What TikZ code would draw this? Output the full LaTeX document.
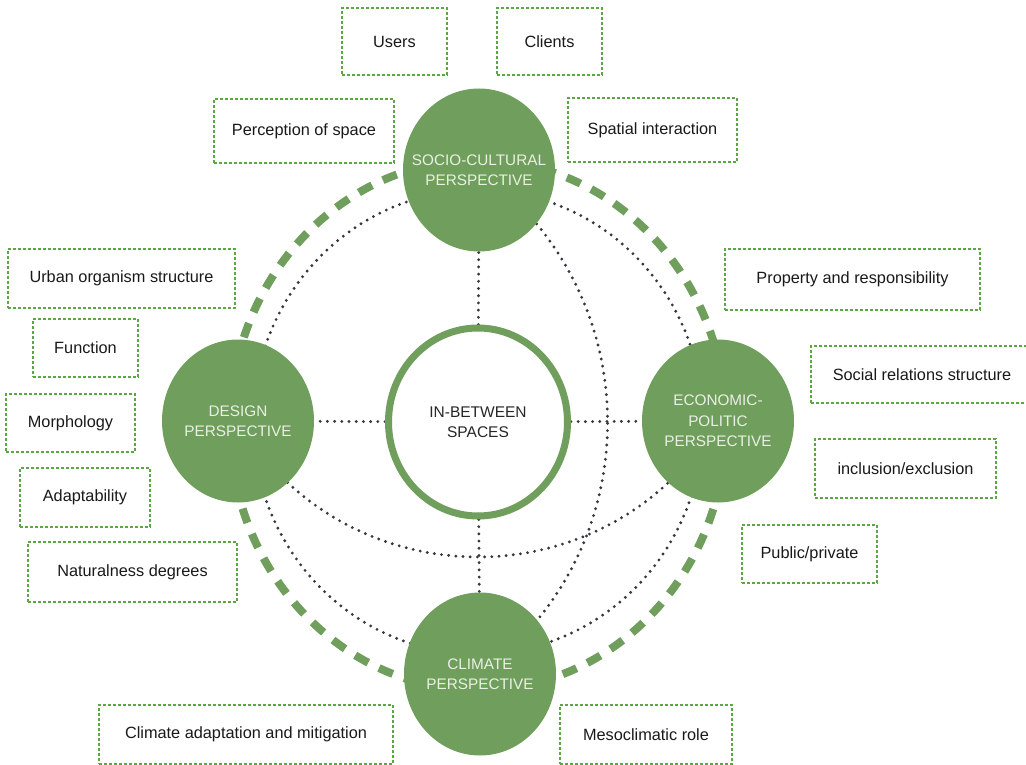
\documentclass[tikz,border=0pt]{standalone}
\usepackage{fontspec}
\setmainfont{Liberation Sans}
\usetikzlibrary{shapes.geometric,backgrounds}
\definecolor{perspgreen}{RGB}{112,158,92}
\definecolor{boxgreen}{RGB}{92,166,68}
\definecolor{dotgray}{RGB}{55,55,64}
\definecolor{lighttext}{RGB}{234,240,228}
\newcommand{\pline}[1]{\makebox[0pt]{#1}}

\begin{document}
\begin{tikzpicture}[x=1pt,y=1pt,
  persp node/.style={ellipse,fill=perspgreen,minimum width=152pt,minimum height=163pt,inner sep=0pt,
    align=center,text=lighttext,font=\fontsize{15.3}{20.5}\selectfont},
  mid node/.style={ellipse,draw=perspgreen,fill=white,line width=7pt,minimum width=179pt,minimum height=188pt,
    inner sep=0pt,align=center,text=black!85,font=\fontsize{15.5}{20}\selectfont},
  item box/.style={draw=boxgreen,line width=2.9pt,dash pattern=on 2.6pt off 2.4pt,inner sep=0pt,
    text=black!90,font=\fontsize{16.3}{19}\selectfont},
  link/.style={draw=dotgray,line width=3.2pt,line cap=round,dash pattern=on 0pt off 7.2pt},
  ring/.style={draw=perspgreen,line width=8pt,dash pattern=on 15pt off 12pt}]

 \useasboundingbox (0,0) rectangle (1026,-765);

 \node[persp node] (soc) at (479,-170) {\pline{SOCIO-CULTURAL}\\\pline{PERSPECTIVE}};
 \node[persp node] (des) at (238,-421) {\pline{DESIGN}\\\pline{PERSPECTIVE}};
 \node[persp node] (eco) at (718,-421) {\pline{ECONOMIC-}\\\pline{POLITIC}\\\pline{PERSPECTIVE}};
 \node[persp node] (cli) at (480,-674) {\pline{CLIMATE}\\\pline{PERSPECTIVE}};
 \node[mid node] (mid) at (478,-422) {IN-BETWEEN\\SPACES};

 \node[item box,minimum width=105pt,minimum height=67pt] (users) at (394.5,-41.5) {Users};
 \node[item box,minimum width=105pt,minimum height=67pt] (clients) at (549.5,-41.5) {Clients};
 \node[item box,minimum width=180pt,minimum height=64pt] (percep) at (304,-131) {Perception of space};
 \node[item box,minimum width=169pt,minimum height=64pt] (spatial) at (652.5,-130) {Spatial interaction};

 \node[item box,minimum width=227pt,minimum height=59pt] (urban) at (121.5,-278.5) {Urban organism structure};
 \node[item box,minimum width=105pt,minimum height=58pt] (func) at (85.5,-348) {Function};
 \node[item box,minimum width=129pt,minimum height=58pt] (morph) at (70.5,-423) {Morphology};
 \node[item box,minimum width=130pt,minimum height=59pt] (adapt) at (85,-497.5) {Adaptability};
 \node[item box,minimum width=209pt,minimum height=60pt] (natural) at (132.5,-572) {Naturalness degrees};

 \node[item box,minimum width=255pt,minimum height=61pt] (prop) at (852.5,-279.5) {Property and responsibility};
 \node[item box,minimum width=222pt,minimum height=57pt] (social) at (922,-374.5) {Social relations structure};
 \node[item box,minimum width=181pt,minimum height=59pt] (incl) at (905.5,-468.5) {inclusion/exclusion};
 \node[item box,minimum width=135pt,minimum height=58pt] (public) at (809.5,-554) {Public/private};

 \node[item box,minimum width=294pt,minimum height=59pt] (climadapt) at (246,-734.5) {Climate adaptation and mitigation};
 \node[item box,minimum width=172pt,minimum height=59pt] (meso) at (646,-734.5) {Mesoclimatic role};

 \begin{scope}[on background layer]
  \draw[ring] ([yshift=-3pt]mid.center) ellipse [x radius=248,y radius=265];
  \draw[link] (mid.center) ellipse [x radius=225,y radius=232];
  \path[link]
    (mid) edge (soc)
    (mid) edge (des)
    (mid) edge (eco)
    (mid) edge (cli)
    (soc.center) edge[bend left=54,looseness=1.07] (cli.center)
    (des.center) edge[bend right=59,looseness=1.13] (eco.center);
 \end{scope}

\end{tikzpicture}
\end{document}
